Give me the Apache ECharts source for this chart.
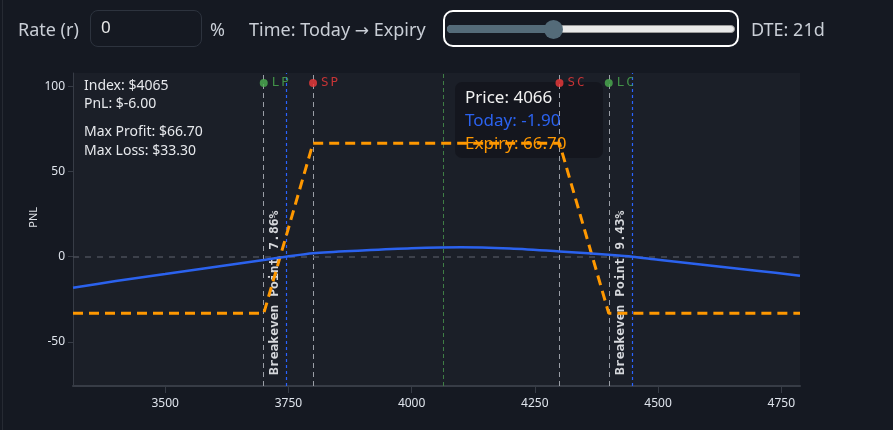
<!DOCTYPE html>
<html>
<head>
<meta charset="utf-8">
<script src="https://cdn.jsdelivr.net/npm/echarts@6/dist/echarts.min.js"></script>
<style>
html,body{margin:0;padding:0;background:#151922;width:893px;height:430px;overflow:hidden;font-family:"Noto Sans",sans-serif;}
#chart{position:absolute;left:0;top:0;width:893px;height:430px;}
.edge{position:absolute;left:2px;top:0;width:1px;height:430px;background:#262a33;}
.lbl{position:absolute;top:11px;height:37px;line-height:37px;color:#c9ced6;font-size:18px;white-space:nowrap;z-index:5;}
.arr{font-family:"DejaVu Sans",sans-serif;font-size:17px;}
.inp{position:absolute;left:90px;top:10px;width:112px;height:37px;box-sizing:border-box;border:1px solid #2d333e;border-radius:8px;background:transparent;color:#e8e8e8;font-family:"Noto Sans",sans-serif;font-size:17px;padding:0 0 4px 10px;outline:none;z-index:5;}
.sl{position:absolute;left:443px;top:10px;width:296px;height:37px;box-sizing:border-box;border:2px solid #ffffff;border-radius:10px;z-index:5;}
.track{position:absolute;left:2px;top:13px;width:288px;height:8px;border-radius:5px;background:#e9e9e9;border:1px solid #9a9a9a;box-sizing:border-box;}
.fill{position:absolute;left:2px;top:13px;width:108px;height:8px;border-radius:5px 0 0 5px;background:#546b79;}
.thumb{position:absolute;left:99px;top:7.5px;width:19px;height:19px;border-radius:50%;background:#546b79;}
</style>
</head>
<body>
<div class="edge"></div>
<div class="lbl" style="left:18px;">Rate (r)</div>
<input class="inp" value="0">
<div class="lbl" style="left:210px;">%</div>
<div class="lbl" style="left:249px;">Time: Today <span class="arr">→</span> Expiry</div>
<div class="sl"><div class="track"></div><div class="fill"></div><div class="thumb"></div></div>
<div class="lbl" style="left:751px;">DTE: 21d</div>
<div id="chart"></div>
<script>
// ---- data ----
const X_MIN = 3313, X_MAX = 4788;
const Y_MIN = -76, Y_MAX = 108;
const xTicks = [3500, 3750, 4000, 4250, 4500, 4750];
const yTicks = [-50, 0, 50, 100];
const strikes = [3700, 3800, 4300, 4400];
const strikeNames = ['LP', 'SP', 'SC', 'LC'];
const expiryPrices = [3313, 3700, 3800, 4300, 4400, 4788];
const expiryPnl = [-33.3, -33.3, 66.7, 66.7, -33.3, -33.3];
const todayPrices = [3313, 3400, 3500, 3600, 3700, 3745, 3800, 3900, 4000, 4100, 4200, 4300, 4400, 4448, 4500, 4600, 4700, 4788];
const todayPnl = [-18.3, -14.3, -10.2, -6.0, -1.9, 0, 2.1, 3.7, 5.0, 5.6, 4.8, 3.1, 1.1, 0, -1.8, -5.0, -8.2, -11.2];
const breakevens = [3745, 4448];
const breakevenPct = ['7.86', '9.43'];
const indexPrice = 4065;
const indexPnl = -6.00;
const maxProfit = 66.70;
const maxLoss = 33.30;
const hoverPrice = 4066;
const hoverToday = -1.90;
const hoverExpiry = 66.70;

// ---- styles ----
const C_BLUE = '#2b62ee', C_ORANGE = '#ff9800', C_GREEN = '#4caf50', C_RED = '#f03a3a';
const MONO = '"DejaVu Sans Mono", monospace';
const SANS = '"Noto Sans", sans-serif';

const chart = echarts.init(document.getElementById('chart'), null, {renderer: 'canvas'});

const strikeLines = strikes.map(s => ({xAxis: s}));
const beLines = breakevens.map((b, i) => ({
  xAxis: b,
  label: {formatter: 'Breakeven Point ' + breakevenPct[i] + '%'}
}));

chart.setOption({
  backgroundColor: 'transparent',
  animation: false,
  grid: {left: 73, right: 93, top: 73, bottom: 44, show: true, backgroundColor: '#1b1f28', borderWidth: 0},
  xAxis: {
    type: 'value', min: X_MIN, max: X_MAX,
    axisLine: {show: true, onZero: false, lineStyle: {color: '#373c46', width: 2}},
    axisTick: {show: true, length: 7, lineStyle: {color: '#373c46'}, customValues: xTicks},
    axisLabel: {color: '#dfe4ec', fontSize: 12, fontFamily: SANS, margin: 12, customValues: xTicks,
      formatter: v => String(v)},
    splitLine: {show: false}
  },
  yAxis: {
    type: 'value', min: Y_MIN, max: Y_MAX,
    axisLine: {show: true, onZero: false, lineStyle: {color: '#373c46', width: 1}},
    axisTick: {show: true, length: 5, lineStyle: {color: '#373c46'}, customValues: yTicks},
    axisLabel: {color: '#dfe4ec', fontSize: 12, fontFamily: SANS, margin: 8, customValues: yTicks,
      formatter: v => String(v)},
    splitLine: {show: false}
  },
  series: [
    {
      name: 'Expiry', type: 'line', z: 3, symbol: 'none',
      data: expiryPrices.map((p, i) => [p, expiryPnl[i]]),
      lineStyle: {color: C_ORANGE, width: 3, type: [10, 6]},
      markLine: {
        silent: true, symbol: 'none', z: 1,
        label: {show: false},
        lineStyle: {color: '#9a9ea6', width: 1, type: [5, 4]},
        data: strikeLines.concat([
          {xAxis: indexPrice, lineStyle: {color: '#3f7d45', width: 1, type: [4, 3]}},
          {yAxis: 0, lineStyle: {color: '#4a4e57', width: 1.5, type: [6, 6]}}
        ])
      }
    },
    {
      name: 'Today', type: 'line', z: 4, symbol: 'none', smooth: 0.3,
      data: todayPrices.map((p, i) => [p, todayPnl[i]]),
      lineStyle: {color: C_BLUE, width: 2.5},
      markLine: {
        silent: true, symbol: 'none', z: 2,
        lineStyle: {color: '#2962ff', width: 1.2, type: [3, 3]},
        label: {
          show: true, position: 'insideStartTop', distance: [11, 5],
          color: '#d6d8dc', fontFamily: MONO, fontWeight: 'bold', fontSize: 13
        },
        data: beLines
      }
    },
    {
      name: 'Strikes', type: 'scatter', z: 6, clip: false,
      symbol: 'circle', symbolSize: 8, symbolOffset: [0, 10],
      data: strikes.map((s, i) => ({value: [s, Y_MAX], name: strikeNames[i],
        itemStyle: {color: strikeNames[i][0] === 'L' ? C_GREEN : C_RED}})),
      label: {
        show: true, position: 'right', distance: 4,
        formatter: p => '{a|' + p.name[0] + '}{b|' + p.name[1] + '}',
        rich: {
          a: {fontFamily: MONO, fontSize: 12.5},
          b: {fontFamily: MONO, fontSize: 12.5, padding: [0, 0, 0, 2]}
        },
        color: 'inherit'
      }
    }
  ],
  graphic: [
    {type: 'text', left: 28, top: 207, rotation: Math.PI / 2, z: 10,
     style: {text: 'PNL', fill: '#dcdfe4', font: '11px ' + SANS}},
    {type: 'text', x: 84, y: 86, z: 10, style: {text: 'Index: $' + indexPrice, fill: '#e6e8ec', font: '14px ' + SANS, verticalAlign: 'middle'}},
    {type: 'text', x: 84, y: 104, z: 10, style: {text: 'PnL: $' + indexPnl.toFixed(2), fill: '#e6e8ec', font: '14px ' + SANS, verticalAlign: 'middle'}},
    {type: 'text', x: 84, y: 132, z: 10, style: {text: 'Max Profit: $' + maxProfit.toFixed(2), fill: '#e6e8ec', font: '14px ' + SANS, verticalAlign: 'middle'}},
    {type: 'text', x: 84, y: 151, z: 10, style: {text: 'Max Loss: $' + maxLoss.toFixed(2), fill: '#e6e8ec', font: '14px ' + SANS, verticalAlign: 'middle'}},
    {type: 'rect', x: 455, y: 82, z: 1, shape: {width: 148, height: 76, r: 7},
     style: {fill: 'rgba(19,22,29,0.92)'}},
    {type: 'text', x: 465, y: 98, z: 10, style: {text: 'Price: ' + hoverPrice, fill: '#f2f2f2', font: '17px ' + SANS, verticalAlign: 'middle'}},
    {type: 'text', x: 465, y: 121, z: 10, style: {text: 'Today: ' + hoverToday.toFixed(2), fill: C_BLUE, font: '17px ' + SANS, verticalAlign: 'middle'}},
    {type: 'text', x: 465, y: 144, z: 10, style: {text: 'Expiry: ' + hoverExpiry.toFixed(2), fill: C_ORANGE, font: '17px ' + SANS, verticalAlign: 'middle'}}
  ]
});
</script>
</body>
</html>
